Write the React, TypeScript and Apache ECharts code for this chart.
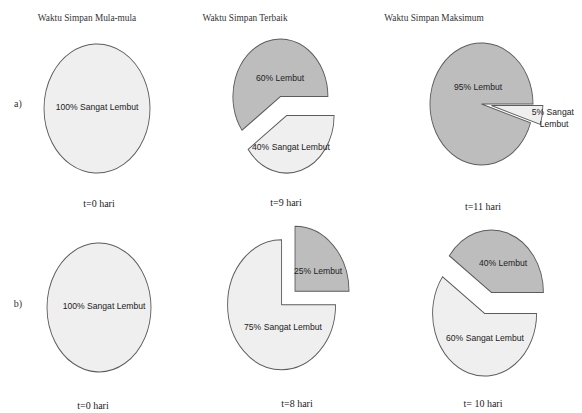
import React, { useEffect, useRef } from "react";
import * as echarts from "echarts";

// Texture classes, drawn counter-clockwise from 3 o'clock in this order
const CATEGORIES = ["Lembut", "Sangat Lembut"];
const COLUMN_TITLES = ["Waktu Simpan Mula-mula", "Waktu Simpan Terbaik", "Waktu Simpan Maksimum"];
const ROW_LABELS = ["a)", "b)"];

// Percentages per pie: [Lembut, Sangat Lembut]
const ROW_A_VALUES = [
  [0, 100],
  [60, 40],
  [95, 5],
];
const ROW_B_VALUES = [
  [0, 100],
  [25, 75],
  [40, 60],
];
const ROW_A_DAYS = ["t=0 hari", "t=9 hari", "t=11 hari"];
const ROW_B_DAYS = ["t=0 hari", "t=8 hari", "t= 10 hari"];

// Geometry of each pie (ellipse centre, radii, slice offsets, label anchors)
type PieLayout = {
  cx: number;
  cy: number;
  rx: number;
  ry: number;
  explode: number[];
  labels: ([number, number] | null)[];
  labelWidth?: (number | undefined)[];
  dayPos: [number, number];
};

const ROW_A_LAYOUT: PieLayout[] = [
  { cx: 97, cy: 108.5, rx: 53, ry: 64.5, explode: [0, 0], labels: [null, [97, 107]], dayPos: [99, 203] },
  { cx: 283.5, cy: 106, rx: 47.5, ry: 57.5, explode: [10, 10], labels: [[280, 78], [291, 147]], dayPos: [286, 202] },
  {
    cx: 481.5, cy: 104, rx: 51.5, ry: 61, explode: [0, 10],
    labels: [[478, 87], [554, 118]], labelWidth: [undefined, 52], dayPos: [483, 206],
  },
];
const ROW_B_LAYOUT: PieLayout[] = [
  { cx: 99, cy: 307.5, rx: 52, ry: 64.5, explode: [0, 0], labels: [null, [104, 306]], dayPos: [93, 405] },
  { cx: 288.3, cy: 298, rx: 54, ry: 65, explode: [9.5, 9.5], labels: [[318, 271], [283, 327]], dayPos: [297, 403] },
  { cx: 488, cy: 303, rx: 52, ry: 62.5, explode: [11, 11], labels: [[503, 263], [485, 338]], dayPos: [483, 403] },
];

const TITLE_POS: [number, number][] = [
  [87, 18],
  [245, 18],
  [434, 18],
];
const ROW_LABEL_POS: [number, number][] = [
  [18, 103],
  [18, 303],
];

const SLICE_FILLS = ["#bdbdbd", "#efefef"];
const EDGE = "#5c5c5c";
const SERIF = "'Liberation Serif', 'Times New Roman', serif";
const SANS = "'Liberation Sans', Arial, sans-serif";

function pieSeries(values: number[], layout: PieLayout, id: string) {
  const total = values.reduce((a, b) => a + b, 0);
  return {
    type: "custom",
    id,
    coordinateSystem: "none",
    silent: true,
    data: values.map((v, i) => ({ name: CATEGORIES[i], value: v })),
    renderItem: (params: any, api: any) => {
      const i = params.dataIndex;
      const v = api.value(0) as number;
      if (!v) return { type: "group", children: [] };
      const before = values.slice(0, i).reduce((a, b) => a + b, 0);
      const start = (before / total) * Math.PI * 2;
      const end = ((before + v) / total) * Math.PI * 2;
      const mid = (start + end) / 2;
      const d = layout.explode[i] || 0;
      const ox = layout.cx + d * Math.cos(mid);
      const oy = layout.cy - d * Math.sin(mid);
      const children: any[] = [
        {
          type: "sector",
          x: ox,
          y: oy,
          scaleY: layout.ry / layout.rx,
          shape: {
            cx: 0,
            cy: 0,
            r: layout.rx,
            r0: 0,
            startAngle: -end,
            endAngle: -start,
            clockwise: true,
          },
          style: { fill: SLICE_FILLS[i], stroke: EDGE, lineWidth: 0.9, strokeNoScale: true },
        },
      ];
      const lp = layout.labels[i];
      if (lp) {
        const w = layout.labelWidth ? layout.labelWidth[i] : undefined;
        const textStyle: any = {
          text: `${v}% ${CATEGORIES[i]}`,
          fill: "#222",
          fontSize: 8.6,
          fontFamily: SANS,
          align: "center",
          verticalAlign: "middle",
          lineHeight: 12,
        };
        if (w) {
          textStyle.width = w;
          textStyle.overflow = "break";
        }
        children.push({ type: "text", x: lp[0], y: lp[1], style: textStyle });
      }
      return { type: "group", children };
    },
  };
}

export default function App() {
  const ref = useRef<HTMLDivElement>(null);

  useEffect(() => {
    document.body.style.margin = "0";
    if (!ref.current) return;
    const chart = echarts.init(ref.current, undefined, { renderer: "svg" });

    const series: any[] = [];
    ROW_A_VALUES.forEach((vals, k) => series.push(pieSeries(vals, ROW_A_LAYOUT[k], `a${k}`)));
    ROW_B_VALUES.forEach((vals, k) => series.push(pieSeries(vals, ROW_B_LAYOUT[k], `b${k}`)));

    const graphics: any[] = [];
    COLUMN_TITLES.forEach((t, k) =>
      graphics.push({
        type: "text",
        x: TITLE_POS[k][0],
        y: TITLE_POS[k][1],
        style: { text: t, fill: "#333", fontSize: 9.3, fontFamily: SERIF, align: "center", verticalAlign: "middle" },
      })
    );
    ROW_LABELS.forEach((t, k) =>
      graphics.push({
        type: "text",
        x: ROW_LABEL_POS[k][0],
        y: ROW_LABEL_POS[k][1],
        style: { text: t, fill: "#333", fontSize: 10, fontFamily: SERIF, align: "center", verticalAlign: "middle" },
      })
    );
    const dayLabels = [
      ...ROW_A_DAYS.map((t, k) => ({ t, p: ROW_A_LAYOUT[k].dayPos })),
      ...ROW_B_DAYS.map((t, k) => ({ t, p: ROW_B_LAYOUT[k].dayPos })),
    ];
    dayLabels.forEach(({ t, p }) =>
      graphics.push({
        type: "text",
        x: p[0],
        y: p[1],
        style: { text: t, fill: "#222", fontSize: 10, fontFamily: SERIF, align: "center", verticalAlign: "middle" },
      })
    );

    chart.setOption({
      animation: false,
      backgroundColor: "#ffffff",
      series,
      graphic: graphics,
    });

    return () => chart.dispose();
  }, []);

  return <div ref={ref} style={{ width: 582, height: 413 }} />;
}
